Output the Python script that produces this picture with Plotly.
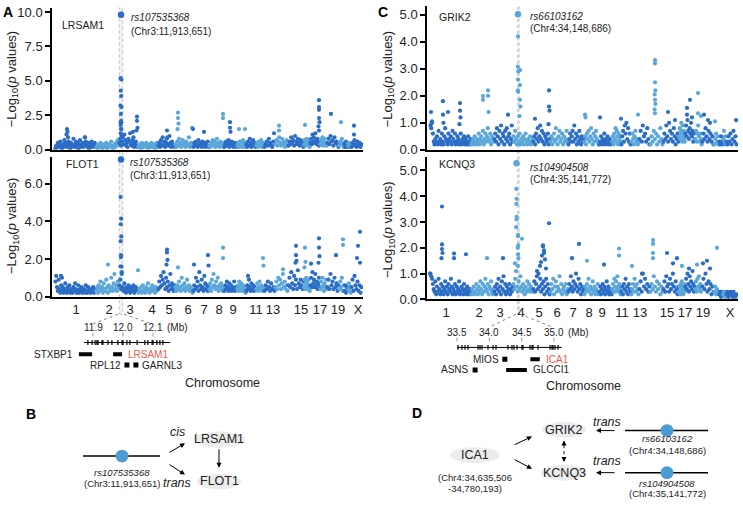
import plotly.graph_objects as go

W, H = 743, 511
def X(px): return px / W
def Y(py): return 1 - py / H

DARK = "#2b6dc6"
LIGHT = "#5ba7d9"
SNPDOT = "#4a9cd3"
RED = "#e8604c"
FONT = "Arial, Liberation Sans, Helvetica, sans-serif"

# ---------------- data ----------------
chrom_bounds = [3, 44, 67, 86, 106, 123, 141, 157, 172, 185, 194, 204, 212, 223, 236, 252, 258, 268, 275, 287, 292, 296, 299, 310]
tick_text = ["1", "2", "3", "4", "5", "6", "7", "8", "9", "11", "13", "15", "17", "19", "X"]
tick_pos_A = [24, 57, 78, 100, 117, 136, 152, 167, 181, 204, 221, 249, 268, 286, 306]
tick_pos_C = [19, 52, 73, 94, 112, 130, 146, 162, 175, 195, 213, 240, 258, 276, 303]

lrsam1_bg = [
    [.1,.3,.2,.5,.4,.2,.6,.3,.1,.4,.2,.7,.5,.3,.2,.4,.6,.3,.1,.5,.2,.3,.8,.4,.2,.6,.3,.5,.1,.4,.7,.2,.3,.5,.2,.4,.9,.6,.3,.2,.5,.1,.4,.3,.6,.2,.4,.3,.5,.2],
    [.2,.1,.3,.4,.2,.5,.3,.1,.2,.4,.3,.2,.5,.1,.3,.2,.4,.3,.6,.2,.1,.3,.4,.2,.5,.3,.7,.4],
    [.5,.8,.3,.6,.9,.4,1.1,.7,.3,.5,.2,.8,.6,1.2,.4,.3,.7,.5,.2,.4,.6,.3,.2],
    [.2,.4,.3,.1,.5,.3,.2,.4,.3,.5,.2,.1,.3,.4,.2,.5,.3,.2,.4,.1,.3,.5,.2],
    [.3,.5,.2,.7,.4,.9,.3,.6,.2,.5,.8,.4,.3,1.0,.5,.2,.6,.4,.3,.2],
    [.4,.2,.6,.3,.8,.5,.2,.4,.7,.3,.5,.2,.6,.4,.3,.9,.2,.5,.3,.4],
    [.2,.5,.3,.6,.4,.2,.7,.3,.5,.4,.2,.6,.3,.5,.2,.4,.3,.6,.2],
    [.3,.2,.5,.4,.7,.3,.6,.2,.4,.8,.5,.3,.2,.6,.4,.3,.5,.2],
    [.2,.4,.6,.3,.5,.7,.2,.4,.3,.6,.5,.2,.4,.3,.5,.2],
    [.3,.5,.2,.4,.6,.3,.5,.2,.4,.7,.3,.2,.5,.4],
    [.4,.2,.6,.3,.8,.5,.2,.4,.7,.3,.5,.2],
    [.3,.5,.2,.6,.4,.3,.7,.2,.5,.4],
    [.2,.4,.6,.3,.8,.5,.3,.2,.6,.4],
    [.4,.7,.3,.6,.9,.5,.3,.8,.4,.6,.2,.5,.7,.3],
    [.3,.6,.4,.9,.5,.7,.3,1.0,.6,.4,.8,.5,.3,.7,.4,.6,.2],
    [.4,.7,.3,.6,.5,.8,.4,.6,.3,.7,.5,.2],
    [.5,.8,.4,1.1,.6,.9,.5,1.2,.7,.4,.8,.6,.3,.5],
    [.4,.7,.5,.9,.3,.6,.8,.4,.5,.3],
    [.5,.8,.4,1.0,.6,.7,.3,.9,.5,.6,.4,.2],
    [.3,.6,.4,.8,.5,.2],
    [.4,.2,.6,.3,.2],
    [.3,.5,.2,.4,.3],
    [.2,.5,.3,.7,.4,.2,.6,.3,.5,.2,.4],
]
lrsam1_peaks = [(15,1.5),(15.5,1.3),(14.5,1.1),(16,0.9),(33,0.9),
    (68.6,5.2),(69.4,5.1),(68.8,4.3),(69.2,3.9),(68.5,3.2),(69.5,3.1),(68.9,2.6),(69.1,2.1),(68.7,2.0),(69.3,2.0),
    (68.6,1.8),(69.4,1.5),(69,1.5),(68.8,1.2),(69.6,1.0),
    (81,1.3),(81.5,0.9),(85,2.4),(85,2.1),(85.5,1.6),(84.5,1.4),
    (115,1.4),(115.5,0.9),(126,2.7),(126,2.3),(126.5,1.9),(125.5,1.5),(140,1.6),(141,1.5),(152,1.3),
    (171,2.6),(171,2.3),(178,2.0),(178,1.6),(178.5,1.3),(187,1.5),(193,1.5),(222,1.2),(227,1.75),(227,1.4),(253,1.8),
    (267,3.6),(267,3.1),(267,2.9),(267,2.3),(267.5,2.0),(266.5,1.7),(267,1.4),(279,2.6),(289,2.0),(302,1.75),(302,1.1)]
lrsam1_lead = (69, 9.8)

flot1_bg = [
    [.8,1.1,.5,.3,.9,.4,.2,.6,.3,.5,.2,.4,.7,.3,.2,.5,.3,.6,.2,.4,.3,.2,.5,.3,.7,.4,.2,.3,.6,.2,.4,.3,.5,.2,.3,.4,.2,.6,.3,.2,.5,.4,.3,.2,.4,.3,.5,.2,.3,.4],
    [.3,.5,.2,.6,.4,.8,.3,.5,.2,.7,.4,.3,.9,.5,.2,.6,.3,.4,1.0,.5,.3,.7,1.2,.4,.6,.3,.8,.5],
    [.6,.9,.4,1.3,.5,.3,.7,.4,.2,.5,.3,.6,.4,.2,.5,.3,.4,.6,.2,.3,.5,.4,.3],
    [.2,.4,.3,.5,.2,.6,.3,.4,.2,.5,.3,.7,.4,.2,.3,.5,.6,.3,.4,.2,.5,.3,.4],
    [.4,.8,.5,1.1,.6,.9,1.3,.7,.4,1.0,.5,.8,.3,.6,1.2,.4,.7,.5,.3,.6],
    [.5,.3,.6,.4,.8,.5,.3,1.0,.6,.4,.7,.3,.5,.9,.4,.6,.3,.5,.4,.2],
    [.3,.6,.4,1.0,.5,.8,.3,1.3,.6,.4,.9,.5,.3,1.1,.7,.4,.6,.3,.5],
    [.4,.7,.3,.9,.5,1.2,.6,.4,.8,.5,1.0,.3,.6,.4,.7,.5,.3,.4],
    [.3,.6,.4,.8,.5,.3,.7,.4,.6,.3,.5,.4,.8,.3,.5,.4],
    [.4,.6,.3,.8,.5,.4,.7,.3,.5,.6,.4,.3,.5,.2],
    [.3,.6,.4,.9,.5,.3,.7,.4,.6,.3,.5,.4],
    [.4,.7,.3,.5,.8,.4,.6,.3,.5,.4],
    [.3,.6,.4,.8,.5,.3,.7,.4,.5,.3],
    [.5,.8,.4,1.0,.6,.9,.4,.7,1.2,.5,.8,.4,.6,.3],
    [.6,1.0,.5,1.3,.7,.4,1.1,.6,.9,.4,1.4,.7,.5,.9,.6,.4,.8],
    [.5,.9,.4,.7,1.0,.5,.8,.4,.6,.9,.5,.3],
    [.6,1.0,.5,1.3,.7,.9,.5,1.2,.6,.8,.4,.7,1.0,.5],
    [.4,.8,.5,1.0,.6,.3,.7,.5,.9,.4],
    [.5,.9,.4,1.2,.6,.8,.4,1.0,.5,.7,.3,.6],
    [.4,.8,.5,1.0,.3,.6],
    [.3,.6,.2,.5,.4],
    [.4,.7,.3,.5,.2],
    [.5,.9,.3,1.1,.6,.4,.8,.3,.6,.2,.5],
]
flot1_peaks = [(9,1.1),(10,1.0),(56,1.7),
    (68.6,5.3),(69.2,4.15),(68.8,3.85),(69.3,3.2),(68.7,2.95),(69.1,2.2),(68.9,2.1),(69.5,1.6),(68.5,1.6),(69.7,1.2),
    (86,1.4),(115,2.5),(115,2.35),(115.5,1.95),(114.5,1.7),(126,1.55),(142,1.7),(156,2.2),(156.5,1.65),(171,2.6),(171,2.05),
    (196,1.1),(211,2.05),(211.5,1.65),(231,1.45),(244,2.7),(244,2.2),(244.5,1.9),(243.5,1.8),(253,2.6),(253.5,1.85),(252.5,1.55),
    (259,1.75),(267,3.1),(267,2.6),(267.5,2.15),(266.5,1.8),(284,2.2),(291,3.05),(291,2.75),(305,2.05),(306,2.7),(308,3.45),(308,1.8)]
flot1_lead = (69, 7.3)
flot1_gene_x = 295

grik2_bg = [
    [.9,.8,1.0,.6,.3,.2,.4,.3,.5,.2,.7,.3,.4,.2,.6,.3,.2,.5,.8,.4,.3,.2,.6,.4,.3,.5,.2,.7,.4,.3,.6,.2,.3,.5,.4,.2,.3,.6,.2,.4,.3,.5,.2,.4,.3,.2,.5,.3,.2,.4],
    [.2,.3,.4,.2,.5,.3,.2,.4,.3,.6,.2,.4,.5,.3,.7,.2,.4,.6,.3,.5,.8,.4,.3,.6,.2,.5,.4,.3],
    [.4,.6,.3,.8,.5,.2,.7,.4,.9,.3,.6,.5,.2,.7,.4,.8,.3,.5,.6,.2,.4,.9,.3],
    [.5,.3,.7,.4,.2,.5,.3,.6,.2,.4,.3,.5,.2,.4,.6,.3,.2,.4,.3,.5,.2,.3,.4],
    [.3,.5,.2,.6,.4,.8,.3,.5,.9,.4,.7,.3,.6,.2,.5,.4,.3,.6,.2,.4],
    [.3,.5,.2,.4,.6,.3,.8,.4,.2,.5,.7,.3,.4,.6,.2,.5,.3,.4,.7,.3],
    [.2,.4,.6,.3,.5,.7,.3,.9,.4,.6,.2,.5,.3,.7,.4,.2,.5,.3,.4],
    [.3,.5,.2,.6,.4,.7,.3,.5,.8,.4,.2,.6,.3,.5,.7,.4,.3,.2],
    [.2,.3,.5,.2,.4,.3,.6,.2,.4,.3,.5,.2,.3,.4,.2,.3],
    [.3,.5,.2,.6,.4,.8,.3,.7,.5,.2,.6,.4,.3,.5],
    [.2,.5,.7,.3,.9,.6,1.0,.4,.8,.3,.6,.2],
    [.3,.6,.4,.2,.5,.7,.3,.4,.2,.3],
    [.4,.7,.3,.9,.5,.6,.3,.8,.4,.2],
    [.2,.5,.3,.7,.4,.6,.2,.5,.3,.8,.4,.2],
    [.3,.6,.4,.9,.5,.3,1.0,.7,.4,.6,.3,.8,.5,.2,.4,.6,.3],
    [.5,.8,.4,.7,1.0,.6,.3,.9,.5,.7,.4,.3],
    [.6,.9,.5,1.1,.7,.4,.8,.6,1.0,.5,.7,.3,.6,.4],
    [.4,.7,.3,.6,.9,.5,.3,.6,.4,.2],
    [.3,.6,.4,.8,.5,.3,.7,.4,.6,.3,.5,.2],
    [.2,.4,.6,.3,.5,.2],
    [.3,.2,.5,.3,.2],
    [.4,.7,.3,.5,.2],
    [.3,.2,.5,.3,.6,.2,.4,.7,.3,.5,.2],
]
grik2_peaks = [(4,1.4),(5,1.05),(4.5,1.0),(16,1.8),(16,1.3),(16.5,1.0),(21,1.4),(33,1.73),(33,1.45),(33.5,1.2),(32.5,0.95),
    (56,1.99),(56,1.85),(61,2.2),(61,2.0),(61.5,1.4),(81,1.3),
    (91,4.2),(90.8,3.08),(91.2,2.9),(91,2.6),(90.9,2.2),(91.1,2.15),(93,2.95),(93,2.4),(93,1.85),(93.5,1.6),(92.5,1.25),
    (108,1.15),(122,2.2),(122,1.6),(122.5,1.45),(121.5,0.95),(158,1.3),(158.5,1.2),(173,1.2),(194,1.15),(211,1.3),
    (228,3.32),(228,3.2),(228,2.5),(228.3,2.2),(227.7,2.05),(228,1.85),(228.4,1.7),(227.6,1.5),(228,1.35),
    (241,1.4),(248,1.1),(260,1.55),(260,1.3),(263,1.85),(265,1.2),(271,2.1),(271,1.35),(274,1.25),(277,1.3),
    (281,1.1),(283,1.0),(288,1.05),(309,1.1)]
grik2_lead = (91, 5.02)
grik2_gene_x = 293

kcnq3_bg = [
    [1.0,.9,.8,.6,.4,.3,.7,.2,.5,.3,.8,.4,.2,.6,.3,.5,.2,.4,.7,.3,.5,.2,.6,.4,.3,.8,.5,.2,.4,.3,.6,.2,.5,.3,.4,.7,.2,.3,.5,.4,.2,.6,.3,.4,.2,.5,.3,.2,.4,.3],
    [.2,.4,.3,.5,.2,.3,.6,.4,.2,.5,.3,.7,.4,.2,.6,.3,.5,.8,.4,.3,.6,.2,.5,.4,.7,.3,.2,.4],
    [.3,.5,.2,.6,.4,.8,.3,.5,.2,.7,.4,.9,.3,.6,.2,.5,.3,.4,.6,.2,.4,.3,.5],
    [.6,.4,.8,1.1,.5,.3,.7,.4,.9,.5,.3,.6,.4,.2,.5,.3,.7,.4,.6,.3,.5,.4,.3],
    [.4,.7,.3,.6,.9,.4,1.0,.5,.8,.3,.6,.4,.7,.2,.5,.8,.3,.6,.4,.2],
    [.3,.6,.4,.8,.2,.5,.7,.3,.5,.4,.9,.3,.6,.2,.4,.5,.3,.6,.2,.4],
    [.3,.6,.4,.9,.5,.3,.7,.4,.6,1.0,.5,.3,.8,.4,.6,.2,.5,.3,.4],
    [.2,.5,.3,.6,.4,.8,.3,.5,.2,.4,.7,.3,.5,.2,.4,.3,.6,.2],
    [.3,.5,.2,.4,.6,.3,.5,.2,.4,.7,.3,.5,.2,.4,.3,.2],
    [.4,.6,.3,.8,.5,.3,.7,.4,.9,.5,.3,.6,.4,.2],
    [.3,.5,.2,.6,.4,.8,.3,.5,.2,.6,.4,.3],
    [.2,.4,.6,.3,.8,.5,.3,.6,.4,.2],
    [.4,.7,.3,1.0,.5,.8,.4,.6,.3,.5],
    [.3,.6,.4,.9,.5,.3,.7,.4,.6,.2,.5,.3],
    [.4,.7,.3,.9,.5,.6,.3,.8,.4,.6,1.0,.5,.3,.7,.4,.2,.5],
    [.3,.5,.2,.6,.4,.7,.3,.5,.2,.4,.6,.3],
    [.5,.8,.4,1.0,.6,.3,.9,.5,.7,.4,1.1,.6,.3,.5],
    [.4,.7,.3,.8,.5,.9,.4,.6,.3,.5],
    [.5,.8,.4,1.0,.6,.3,.7,.4,.6,.2,.5,.3],
    [.3,.5,.2,.4,.3,.2],
    [.2,.3,.1,.2,.3],
    [.2,.3,.2,.1,.3],
    [.2,.3,.1,.2,.3,.2,.1,.3,.2,.1,.2],
]
kcnq3_peaks = [(3,1.0),(15,3.6),(15,2.13),(15,1.95),(15.5,1.8),(14.5,1.6),(27,1.78),(27,1.6),(39,1.75),(60,1.6),(76,1.6),(88,1.4),
    (89.3,4.28),(89.6,3.9),(89.4,3.7),(89.7,3.2),(89.5,3.1),(89.2,2.8),(91,2.5),(91,2.45),(91.3,2.1),(90.7,2.0),(91,1.75),(91.4,1.6),(90.8,1.3),(95,2.35),
    (110,1.1),(113,1.3),(114,1.45),(116,2.1),(116,2.05),(117,1.9),(117,1.8),(115,1.7),(118,1.55),(119,1.2),(122,2.95),
    (145,1.6),(152,2.15),(160,1.5),(177,1.35),(192,1.97),(192,1.7),(205,1.3),(215,1.0),(226,2.3),(226,2.15),(226,1.8),(226,1.6),
    (240,1.8),(246,1.4),(250,1.6),(255,1.3),(262,1.2),(270,1.35),(276,1.4),(280,1.5),(283,1.2),(290,2.0)]
kcnq3_lead = (89.5, 5.27)
kcnq3_gene_x = 147

# gene tracks (Mb)
trackA_span = (11.87, 12.157)
trackA_ticks = [11.9, 12.0, 12.1]
trackA_snps = [11.883, 11.897, 11.907, 11.913, 11.917, 11.930, 11.933, 11.950, 11.963, 11.983, 11.997, 12.000,
               12.013, 12.023, 12.047, 12.073, 12.083, 12.097, 12.100, 12.113, 12.123, 12.133]
genesA_name = ["STXBP1", "LRSAM1", "RPL12", "GARNL3"]
genesA_start = [11.853, 11.967, 12.013, 12.043]
genesA_end = [11.897, 11.997, 12.013, 12.043]

trackC_span = (33.5, 35.12)
trackC_ticks = [33.5, 34.0, 34.5, 35.0]
trackC_snps = [33.515, 33.577, 33.624, 33.670, 33.825, 33.856, 33.887, 33.979, 34.057, 34.103, 34.289, 34.350, 34.381,
               34.428, 34.505, 34.521, 34.629, 34.660, 34.675, 34.753, 34.938, 34.969, 34.985, 35.015, 35.062]
genesC_name = ["MIOS", "ICA1", "ASNS", "GLCCI1"]
genesC_start = [34.24, 34.635, 33.78, 34.26]
genesC_end = [34.24, 34.78, 33.78, 34.58]

# ---------------- helpers ----------------
def chrom_index(x):
    for i in range(len(chrom_bounds) - 1):
        if x < chrom_bounds[i + 1]:
            return i
    return len(chrom_bounds) - 2

def col(x):
    return DARK if chrom_index(x) % 2 == 0 else LIGHT

def manhattan_points(bg, peaks):
    xs, ys, cs = [], [], []
    for i, vals in enumerate(bg):
        a, b = chrom_bounds[i], chrom_bounds[i + 1]
        n = len(vals)
        for j, v in enumerate(vals):
            xs.append(a + (j + 0.5) * (b - a) / n)
            ys.append(v)
            cs.append(DARK if i % 2 == 0 else LIGHT)
    for x, v in peaks:
        xs.append(x); ys.append(v); cs.append(col(x))
    return xs, ys, cs

fig = go.Figure()

panels = [
    dict(bg=lrsam1_bg, peaks=lrsam1_peaks, lead=lrsam1_lead, xa="x", ya="y", gene=None),
    dict(bg=flot1_bg, peaks=flot1_peaks, lead=flot1_lead, xa="x2", ya="y2", gene=flot1_gene_x),
    dict(bg=grik2_bg, peaks=grik2_peaks, lead=grik2_lead, xa="x3", ya="y3", gene=grik2_gene_x),
    dict(bg=kcnq3_bg, peaks=kcnq3_peaks, lead=kcnq3_lead, xa="x4", ya="y4", gene=kcnq3_gene_x),
]
# y pixel extents (bottom, top) and ranges
ypx = [(150, 5, 10.3), (300, 157, 7.45), (150, 3, 5.33), (303, 157, 5.53)]

for p, (yb, yt, ymax) in zip(panels, ypx):
    xs, ys, cs = manhattan_points(p["bg"], p["peaks"])
    fig.add_trace(go.Scatter(x=xs, y=ys, mode="markers", xaxis=p["xa"], yaxis=p["ya"],
                             marker=dict(size=4.2, color=cs, line=dict(width=0)), hoverinfo="skip",
                             showlegend=False))
    lx, ly = p["lead"]
    fig.add_trace(go.Scatter(x=[lx], y=[ly], mode="markers", xaxis=p["xa"], yaxis=p["ya"],
                             marker=dict(size=6.5, color=col(lx)), showlegend=False, cliponaxis=False))
    if p["gene"] is not None:
        per_px = ymax / (yb - yt)
        fig.add_trace(go.Scatter(x=[p["gene"]], y=[-4.5 * per_px], mode="markers", xaxis=p["xa"], yaxis=p["ya"],
                                 marker=dict(symbol="triangle-up", size=11, color=LIGHT),
                                 showlegend=False, cliponaxis=False))

# gene track traces
def track_traces(span, ticks, snps, names, starts, ends, xa, ya):
    ROW_LAB, ROW_TICK0, ROW_TICK1, ROW_TRACK, ROW1, ROW2 = 6, 11, 15, 21, 33, 44
    fig.add_trace(go.Scatter(x=list(span), y=[ROW_TRACK, ROW_TRACK], mode="lines", xaxis=xa, yaxis=ya,
                             line=dict(color="black", width=1), showlegend=False, hoverinfo="skip"))
    sx, sy = [], []
    for s in snps:
        sx += [s, s, None]; sy += [ROW_TRACK - 2.5, ROW_TRACK + 2.5, None]
    fig.add_trace(go.Scatter(x=sx, y=sy, mode="lines", xaxis=xa, yaxis=ya,
                             line=dict(color="black", width=1.2), showlegend=False, hoverinfo="skip"))
    tx, ty = [], []
    for t in ticks:
        tx += [t, t, None]; ty += [ROW_TICK0, ROW_TICK1, None]
    fig.add_trace(go.Scatter(x=tx, y=ty, mode="lines", xaxis=xa, yaxis=ya,
                             line=dict(color="#999999", width=1), showlegend=False, hoverinfo="skip"))
    rows = [ROW1, ROW1, ROW2, ROW2]
    for n, s, e, r in zip(names, starts, ends, rows):
        if e - s > 0.001:
            fig.add_trace(go.Scatter(x=[s, e], y=[r, r], mode="lines", xaxis=xa, yaxis=ya,
                                     line=dict(color="black", width=4), showlegend=False, hoverinfo="skip"))
        else:
            fig.add_trace(go.Scatter(x=[s], y=[r], mode="markers", xaxis=xa, yaxis=ya,
                                     marker=dict(symbol="square", size=5, color="black"),
                                     showlegend=False, hoverinfo="skip"))
    return ROW_LAB, rows

labA, rowsA = track_traces(trackA_span, trackA_ticks, trackA_snps, genesA_name, genesA_start, genesA_end, "x5", "y5")
labC, rowsC = track_traces(trackC_span, trackC_ticks, trackC_snps, genesC_name, genesC_start, genesC_end, "x6", "y6")

# ---------------- axes ----------------
xdomA = [X(52), X(363)]
xdomC = [X(427), X(738)]
common_x = dict(range=[0, 311], showgrid=False, zeroline=False, showline=True, linecolor="black",
                linewidth=2, ticks="", fixedrange=True)
common_y = dict(showgrid=False, zeroline=False, showline=True, linecolor="black", linewidth=1.5,
                ticks="outside", ticklen=5, tickwidth=1.5, tickcolor="black",
                tickfont=dict(size=13, color="#222", family=FONT))

lay = dict(
    xaxis=dict(domain=xdomA, anchor="y", showticklabels=False, **common_x),
    xaxis2=dict(domain=xdomA, anchor="y2", showticklabels=True, tickvals=tick_pos_A, ticktext=tick_text,
                tickfont=dict(size=13, color="#222", family=FONT), **common_x),
    xaxis3=dict(domain=xdomC, anchor="y3", showticklabels=False, **common_x),
    xaxis4=dict(domain=xdomC, anchor="y4", showticklabels=True, tickvals=tick_pos_C, ticktext=tick_text,
                tickfont=dict(size=13, color="#222", family=FONT), **common_x),
    yaxis=dict(domain=[Y(150), Y(5)], anchor="x", range=[0, 10.3], tickvals=[0, 2.5, 5, 7.5, 10],
               ticktext=["0.0", "2.5", "5.0", "7.5", "10.0"], **common_y),
    yaxis2=dict(domain=[Y(300), Y(157)], anchor="x2", range=[0, 7.45], tickvals=[0, 2, 4, 6],
                ticktext=["0.0", "2.0", "4.0", "6.0"], **common_y),
    yaxis3=dict(domain=[Y(150), Y(3)], anchor="x3", range=[0, 5.33], tickvals=[0, 1, 2, 3, 4, 5],
                ticktext=["0.0", "1.0", "2.0", "3.0", "4.0", "5.0"], **common_y),
    yaxis4=dict(domain=[Y(303), Y(157)], anchor="x4", range=[0, 5.53], tickvals=[0, 1, 2, 3, 4, 5],
                ticktext=["0.0", "1.0", "2.0", "3.0", "4.0", "5.0"], **common_y),
    xaxis5=dict(domain=[X(70), X(190)], anchor="y5", range=[11.9 - 23 / 300, 12.1 + 37 / 300], visible=False),
    yaxis5=dict(domain=[Y(378), Y(326)], anchor="x5", range=[52, 0], visible=False),
    xaxis6=dict(domain=[X(440), X(600)], anchor="y6", range=[33.5 - 17 / 64.67, 33.5 + 143 / 64.67], visible=False),
    yaxis6=dict(domain=[Y(383), Y(331)], anchor="x6", range=[52, 0], visible=False),
)

ann = []
def txt(x, y, s, size=10, **kw):
    d = dict(x=X(x), y=Y(y), xref="paper", yref="paper", text=s, showarrow=False,
             font=dict(size=size, color=kw.pop("color", "#222"), family=FONT), xanchor=kw.pop("xanchor", "center"),
             yanchor=kw.pop("yanchor", "middle"))
    d.update(kw)
    ann.append(d)

# panel letters
for L, x, y in [("A", 8, 9), ("C", 383, 9), ("B", 31, 420), ("D", 417, 419)]:
    txt(x, y, "<b>%s</b>" % L, size=14, color="black")

# y titles
ytitle = "−Log<sub>10</sub>(<i>p</i> values)"
for x, y in [(12, 78), (12, 228), (388, 78), (388, 232)]:
    txt(x, y, ytitle, size=13, textangle=-90)

# gene name in each panel
txt(60, 22, "LRSAM1", size=10.5, xanchor="left")
txt(64, 165, "FLOT1", size=10.5, xanchor="left")
txt(437, 14, "GRIK2", size=10.5, xanchor="left")
txt(437, 165, "KCNQ3", size=10.5, xanchor="left")

# lead SNP labels
for x, y1, y2, rs, pos in [(129, 15, 29, "rs107535368", "(Chr3:11,913,651)"),
                           (128, 163, 176, "rs107535368", "(Chr3:11,913,651)"),
                           (528, 14, 26, "rs66103162", "(Chr4:34,148,686)"),
                           (528, 168, 180, "rs104904508", "(Chr4:35,141,772)")]:
    txt(x, y1, "<i>%s</i>" % rs, size=10, xanchor="left")
    txt(x, y2, pos, size=10, xanchor="left")

# gene-track labels
for ticks, xa, ya, lab in [(trackA_ticks, "x5", "y5", labA), (trackC_ticks, "x6", "y6", labC)]:
    for t in ticks:
        ann.append(dict(x=t, y=lab, xref=xa, yref=ya, text="%.1f" % t, showarrow=False,
                        font=dict(size=10, color="#222", family=FONT)))
    ann.append(dict(x=ticks[-1], y=lab, xref=xa, yref=ya, text="(Mb)", showarrow=False, xshift=24,
                    font=dict(size=10, color="#222", family=FONT)))

def gene_labels(names, starts, ends, rows, xa, ya, sides):
    for n, s, e, r, side in zip(names, starts, ends, rows, sides):
        red = n in ("LRSAM1", "ICA1")
        if side == "L":
            ann.append(dict(x=s, y=r, xref=xa, yref=ya, text=n, showarrow=False, xanchor="right", xshift=-4,
                            font=dict(size=10, color=RED if red else "#222", family=FONT)))
        else:
            ann.append(dict(x=e, y=r, xref=xa, yref=ya, text=n, showarrow=False, xanchor="left", xshift=4,
                            font=dict(size=10, color=RED if red else "#222", family=FONT)))

gene_labels(genesA_name, genesA_start, genesA_end, rowsA, "x5", "y5", ["L", "R", "L", "R"])
gene_labels(genesC_name, genesC_start, genesC_end, rowsC, "x6", "y6", ["L", "R", "L", "R"])

txt(222, 388, "Chromosome", size=12.5)
txt(583, 391, "Chromosome", size=12.5)

# ---------------- shapes ----------------
shapes = []
# lead SNP bands
shapes.append(dict(type="rect", xref="x", yref="paper", x0=67.2, x1=70.8, y0=Y(318), y1=Y(5),
                   fillcolor="rgba(210,210,210,0.3)", line=dict(color="#c0c0c0", width=1, dash="dot"), layer="below"))
shapes.append(dict(type="rect", xref="x3", yref="paper", x0=90.7, x1=92.1, y0=Y(318), y1=Y(3),
                   fillcolor="rgba(210,210,210,0.3)", line=dict(color="#c0c0c0", width=1, dash="dot"), layer="below"))
# zoom connector lines
for (x0, y0, x1, y1) in [(118, 318, 93, 328), (124, 318, 152, 328), (516, 318, 490, 331), (520, 318, 552, 331)]:
    shapes.append(dict(type="line", xref="paper", yref="paper", x0=X(x0), y0=Y(y0), x1=X(x1), y1=Y(y1),
                       line=dict(color="#888", width=1, dash="dot")))

def ellipse(cx, cy, rx, ry):
    shapes.append(dict(type="circle", xref="paper", yref="paper", x0=X(cx - rx), x1=X(cx + rx),
                       y0=Y(cy + ry), y1=Y(cy - ry), fillcolor="#ececec", line=dict(width=0), layer="below"))

def snpdot(cx, cy, r=6.5):
    shapes.append(dict(type="circle", xref="paper", yref="paper", x0=X(cx - r), x1=X(cx + r),
                       y0=Y(cy + r), y1=Y(cy - r), fillcolor=SNPDOT, line=dict(width=0)))

def hline(x0, x1, y, w=1.5, dash=None):
    shapes.append(dict(type="line", xref="paper", yref="paper", x0=X(x0), x1=X(x1), y0=Y(y), y1=Y(y),
                       line=dict(color="black", width=w, dash=dash)))

def arrow(hx, hy, tx, ty):
    ann.append(dict(x=X(hx), y=Y(hy), xref="paper", yref="paper", ax=tx - hx, ay=ty - hy, axref="pixel",
                    ayref="pixel", text="", showarrow=True, arrowhead=2, arrowsize=1, arrowwidth=1,
                    arrowcolor="black", standoff=0, startstandoff=0))

# Panel B
hline(83, 160, 463)
snpdot(122, 463)
txt(122, 480, "<i>rs107535368</i>", size=9.5)
txt(122, 491, "(Chr3:11,913,651)", size=9.5)
arrow(185, 450, 168, 460)
arrow(185, 482, 168, 471)
txt(177, 438, "<i>cis</i>", size=12.5)
txt(177, 491, "<i>trans</i>", size=12.5)
ellipse(219, 446, 26, 8)
ellipse(219, 489, 22, 8)
txt(219, 446, "LRSAM1", size=12.5)
txt(219, 489, "FLOT1", size=12.5)
arrow(219, 475, 219, 455)

# Panel D
ellipse(475, 462, 25, 8)
txt(475, 462, "ICA1", size=12.5)
txt(475, 485, "(Chr4:34,635,506", size=9.5)
txt(475, 496, "-34,780,193)", size=9.5)
arrow(532, 443, 513, 452)
arrow(532, 476, 513, 466)
ellipse(564, 436, 22, 8)
ellipse(564, 480, 23, 8)
txt(564, 436, "GRIK2", size=12.5)
txt(564, 480, "KCNQ3", size=12.5)
shapes.append(dict(type="line", xref="paper", yref="paper", x0=X(564), x1=X(564), y0=Y(452), y1=Y(464),
                   line=dict(color="black", width=1, dash="dot")))
arrow(564, 447, 564, 452)
arrow(564, 469, 564, 464)
for ty, ly, rs, pos, ry1, ry2 in [(428, 437, "rs66103162", "(Chr4:34,148,686)", 445, 457),
                                  (468, 480, "rs104904508", "(Chr4:35,141,772)", 491, 501)]:
    txt(607, ty, "<i>trans</i>", size=12.5)
    arrow(596, ly, 616, ly)
    hline(625, 708, ly)
    snpdot(667, ly)
    txt(667, ry1, "<i>%s</i>" % rs, size=9.5)
    txt(667, ry2, pos, size=9.5)

fig.update_layout(width=W, height=H, margin=dict(l=0, r=0, t=0, b=0),
                  paper_bgcolor="white", plot_bgcolor="rgba(0,0,0,0)",
                  font=dict(family=FONT, color="#222"), showlegend=False,
                  annotations=ann, shapes=shapes, **lay)

fig.write_html("out.html")
